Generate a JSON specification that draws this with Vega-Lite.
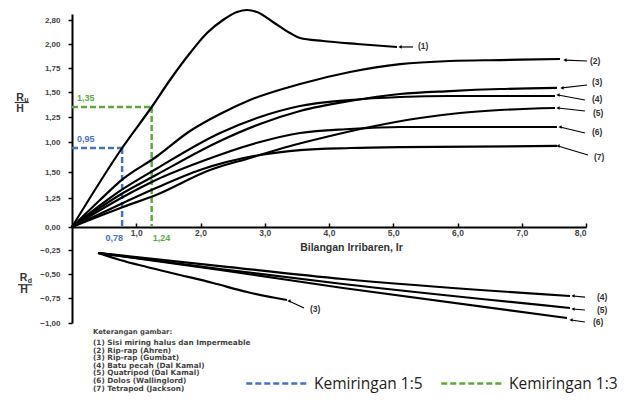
{
  "$schema": "https://vega.github.io/schema/vega-lite/v6.json",
  "width": 514,
  "height": 227,
  "autosize": {"type": "none"},
  "padding": {"left": 72, "top": 0, "right": 38, "bottom": 182},
  "config": {"view": {"stroke": null}, "font": "Liberation Sans"},
  "datasets": {
    "curves": [
      {"s": "1", "x": 0, "y": 0}, {"s": "1", "x": 0.78, "y": 0.95}, {"s": "1", "x": 1.24, "y": 1.35}, {"s": "1", "x": 1.525, "y": 1.625}, {"s": "1", "x": 1.837, "y": 1.906}, {"s": "1", "x": 2.101, "y": 2.367}, {"s": "1", "x": 2.35, "y": 2.8}, {"s": "1", "x": 2.568, "y": 3.067}, {"s": "1", "x": 2.724, "y": 3.133}, {"s": "1", "x": 2.879, "y": 3.067}, {"s": "1", "x": 3.128, "y": 2.733}, {"s": "1", "x": 3.393, "y": 2.367}, {"s": "1", "x": 3.549, "y": 2.2}, {"s": "1", "x": 3.907, "y": 2.1}, {"s": "1", "x": 4.436, "y": 2.0}, {"s": "1", "x": 5.058, "y": 1.969},
      {"s": "2", "x": 0, "y": 0}, {"s": "2", "x": 0.436, "y": 0.466}, {"s": "2", "x": 0.794, "y": 0.683}, {"s": "2", "x": 1.307, "y": 0.875}, {"s": "2", "x": 1.837, "y": 1.11}, {"s": "2", "x": 2.304, "y": 1.28}, {"s": "2", "x": 2.77, "y": 1.42}, {"s": "2", "x": 3.549, "y": 1.583}, {"s": "2", "x": 4.327, "y": 1.708}, {"s": "2", "x": 5.105, "y": 1.79}, {"s": "2", "x": 5.883, "y": 1.823}, {"s": "2", "x": 6.661, "y": 1.833}, {"s": "2", "x": 7.595, "y": 1.844},
      {"s": "3", "x": 0, "y": 0}, {"s": "3", "x": 0.794, "y": 0.548}, {"s": "3", "x": 1.307, "y": 0.721}, {"s": "3", "x": 2.304, "y": 1.01}, {"s": "3", "x": 2.926, "y": 1.18}, {"s": "3", "x": 3.549, "y": 1.31}, {"s": "3", "x": 4.327, "y": 1.41}, {"s": "3", "x": 5.105, "y": 1.48}, {"s": "3", "x": 5.883, "y": 1.51}, {"s": "3", "x": 6.661, "y": 1.531}, {"s": "3", "x": 7.549, "y": 1.542},
      {"s": "4", "x": 0, "y": 0}, {"s": "4", "x": 0.794, "y": 0.587}, {"s": "4", "x": 1.307, "y": 0.775}, {"s": "4", "x": 2.304, "y": 1.09}, {"s": "4", "x": 2.926, "y": 1.25}, {"s": "4", "x": 3.549, "y": 1.36}, {"s": "4", "x": 4.327, "y": 1.42}, {"s": "4", "x": 5.105, "y": 1.45}, {"s": "4", "x": 5.883, "y": 1.46}, {"s": "4", "x": 7.518, "y": 1.46},
      {"s": "5", "x": 0, "y": 0}, {"s": "5", "x": 0.794, "y": 0.345}, {"s": "5", "x": 1.307, "y": 0.529}, {"s": "5", "x": 2.148, "y": 0.767}, {"s": "5", "x": 2.77, "y": 0.867}, {"s": "5", "x": 3.284, "y": 0.95}, {"s": "5", "x": 4.016, "y": 1.06}, {"s": "5", "x": 4.638, "y": 1.15}, {"s": "5", "x": 5.416, "y": 1.24}, {"s": "5", "x": 6.039, "y": 1.29}, {"s": "5", "x": 6.661, "y": 1.32}, {"s": "5", "x": 7.518, "y": 1.34},
      {"s": "6", "x": 0, "y": 0}, {"s": "6", "x": 0.794, "y": 0.51}, {"s": "6", "x": 1.307, "y": 0.673}, {"s": "6", "x": 1.992, "y": 0.833}, {"s": "6", "x": 2.926, "y": 1.0}, {"s": "6", "x": 3.549, "y": 1.09}, {"s": "6", "x": 4.327, "y": 1.13}, {"s": "6", "x": 5.105, "y": 1.15}, {"s": "6", "x": 7.549, "y": 1.15},
      {"s": "7", "x": 0, "y": 0}, {"s": "7", "x": 0.794, "y": 0.414}, {"s": "7", "x": 1.307, "y": 0.596}, {"s": "7", "x": 1.992, "y": 0.767}, {"s": "7", "x": 2.926, "y": 0.892}, {"s": "7", "x": 3.549, "y": 0.933}, {"s": "7", "x": 4.327, "y": 0.95}, {"s": "7", "x": 5.105, "y": 0.958}, {"s": "7", "x": 7.549, "y": 0.967},
      {"s": "3d", "x": 0.405, "y": -0.281}, {"s": "3d", "x": 0.747, "y": -0.354}, {"s": "3d", "x": 1.167, "y": -0.427}, {"s": "3d", "x": 1.681, "y": -0.51}, {"s": "3d", "x": 2.195, "y": -0.594}, {"s": "3d", "x": 2.724, "y": -0.688}, {"s": "3d", "x": 3.346, "y": -0.77},
      {"s": "4d", "x": 0.405, "y": -0.281}, {"s": "4d", "x": 2.304, "y": -0.417}, {"s": "4d", "x": 4.218, "y": -0.552}, {"s": "4d", "x": 7.751, "y": -0.729},
      {"s": "5d", "x": 0.405, "y": -0.281}, {"s": "5d", "x": 2.304, "y": -0.448}, {"s": "5d", "x": 4.218, "y": -0.604}, {"s": "5d", "x": 7.751, "y": -0.85},
      {"s": "6d", "x": 0.405, "y": -0.281}, {"s": "6d", "x": 2.304, "y": -0.458}, {"s": "6d", "x": 4.218, "y": -0.646}, {"s": "6d", "x": 7.704, "y": -0.95}
    ],
    "guides": [
      {"slope": "Kemiringan 1:5", "x": 0, "y": 0.95, "x2": 0.78, "y2": 0.95},
      {"slope": "Kemiringan 1:5", "x": 0.78, "y": 0.95, "x2": 0.78, "y2": 0},
      {"slope": "Kemiringan 1:3", "x": 0, "y": 1.35, "x2": 1.24, "y2": 1.35},
      {"slope": "Kemiringan 1:3", "x": 1.24, "y": 1.35, "x2": 1.24, "y2": 0}
    ],
    "guideLabels": [
      {"slope": "Kemiringan 1:5", "kind": "y", "label": "0,95", "x": 0, "y": 0.95},
      {"slope": "Kemiringan 1:3", "kind": "y", "label": "1,35", "x": 0, "y": 1.35},
      {"slope": "Kemiringan 1:5", "kind": "xl", "label": "0,78", "x": 0.78, "y": 0},
      {"slope": "Kemiringan 1:3", "kind": "xr", "label": "1,24", "x": 1.24, "y": 0}
    ],
    "arrows": [
      {"x": 5.105, "y": 1.969, "x2": 5.307, "y2": 1.969},
      {"x": 7.673, "y": 1.833, "x2": 8.016, "y2": 1.823},
      {"x": 7.626, "y": 1.542, "x2": 8.016, "y2": 1.573},
      {"x": 7.564, "y": 1.47, "x2": 7.984, "y2": 1.42},
      {"x": 7.564, "y": 1.34, "x2": 7.984, "y2": 1.31},
      {"x": 7.595, "y": 1.15, "x2": 7.984, "y2": 1.09},
      {"x": 7.564, "y": 0.967, "x2": 8.031, "y2": 0.892},
      {"x": 3.377, "y": -0.78, "x2": 3.611, "y2": -0.85},
      {"x": 7.798, "y": -0.729, "x2": 7.984, "y2": -0.74},
      {"x": 7.798, "y": -0.86, "x2": 7.984, "y2": -0.87},
      {"x": 7.767, "y": -0.97, "x2": 7.984, "y2": -0.99}
    ],
    "curveLabels": [
      {"label": "(1)", "x": 5.385, "y": 1.979},
      {"label": "(2)", "x": 8.062, "y": 1.823},
      {"label": "(3)", "x": 8.093, "y": 1.604},
      {"label": "(4)", "x": 8.093, "y": 1.43},
      {"label": "(5)", "x": 8.109, "y": 1.29},
      {"label": "(6)", "x": 8.093, "y": 1.1},
      {"label": "(7)", "x": 8.125, "y": 0.875},
      {"label": "(3)", "x": 3.704, "y": -0.86},
      {"label": "(4)", "x": 8.171, "y": -0.74},
      {"label": "(5)", "x": 8.171, "y": -0.87},
      {"label": "(6)", "x": 8.109, "y": -0.99}
    ],
    "ratioText": [
      {"t": "R", "size": "big", "x": -0.809, "y": 1.445},
      {"t": "u", "size": "small", "x": -0.71, "y": 1.42},
      {"t": "H", "size": "big", "x": -0.809, "y": 1.335},
      {"t": "R", "size": "big", "x": -0.755, "y": -0.545},
      {"t": "d", "size": "small", "x": -0.655, "y": -0.575},
      {"t": "H", "size": "big", "x": -0.747, "y": -0.665}
    ],
    "ratioBars": [
      {"x": -0.89, "x2": -0.67, "y": 1.395},
      {"x": -0.84, "x2": -0.62, "y": -0.612}
    ],
    "notes": [
      {"kind": "head", "t": "Keterangan gambar:", "x": 0.327, "y": -1.09},
      {"kind": "list", "t": ["(1) Sisi miring halus dan Impermeable", "(2) Rip-rap (Ahren)", "(3) Rip-rap (Gumbat)", "(4) Batu pecah (Dal Kamal)", "(5) Quatripod (Dal Kamal)", "(6) Dolos (Wallinglord)", "(7) Tetrapod (Jackson)"], "x": 0.327, "y": -1.16}
    ]
  },
  "encoding": {
    "x": {
      "field": "x", "type": "quantitative",
      "scale": {"domain": [0, 8], "nice": false, "zero": false},
      "axis": {
        "title": "Bilangan Irribaren, Ir",
        "titleX": 279, "titleY": 20, "titleBaseline": "middle",
        "titleFont": "Liberation Sans", "titleFontSize": 10.5, "titleFontWeight": "bold", "titleColor": "#333",
        "values": [1, 2, 3, 4, 5, 6, 7, 8],
        "labelExpr": "replace(format(datum.value, '.1f'), '.', ',')",
        "labelFontSize": 8.5, "labelFontWeight": "bold", "labelColor": "#444", "labelPadding": 5,
        "tickSize": -4, "tickColor": "black", "tickWidth": 1.5,
        "domainColor": "black", "domainWidth": 2, "grid": false
      }
    },
    "y": {
      "field": "y", "type": "quantitative",
      "scale": {
        "domain": [-1, -0.75, -0.5, -0.25, 0, 0.5, 0.75, 1, 1.25, 1.5, 1.75, 2, 2.8, 3.0],
        "range": [323, 298, 274, 250, 227, 198, 172, 142, 117, 92, 68, 44, 20, 14],
        "nice": false, "zero": false
      },
      "axis": {
        "title": null,
        "values": [-1, -0.75, -0.5, -0.25, 0, 0.5, 0.75, 1, 1.25, 1.5, 1.75, 2, 2.8],
        "labelExpr": "datum.value == 0.75 ? '1,50' : datum.value == 0.5 ? '1,25' : replace(format(datum.value, '.2f'), '.', ',')",
        "labelFontSize": 8, "labelFontWeight": "bold", "labelColor": "#444", "labelPadding": 8,
        "tickSize": 4, "tickColor": "black", "tickWidth": 1.5,
        "domainColor": "black", "domainWidth": 2, "grid": false
      }
    }
  },
  "layer": [
    {
      "data": {"name": "guides"},
      "mark": {"type": "rule", "strokeWidth": 2.5, "strokeDash": [6, 3]},
      "encoding": {
        "x2": {"field": "x2"},
        "y2": {"field": "y2"},
        "color": {
          "field": "slope", "type": "nominal",
          "scale": {"domain": ["Kemiringan 1:5", "Kemiringan 1:3"], "range": ["#4472C4", "#5BAA3F"]},
          "legend": {
            "title": null, "orient": "none", "direction": "horizontal",
            "legendX": 173, "legendY": 351,
            "symbolType": "stroke", "symbolSize": 3900, "symbolStrokeWidth": 2.5, "symbolDash": [6, 3],
            "labelFont": "Open Sans", "labelFontSize": 15.5, "labelColor": "#222", "labelOffset": 4,
            "columnPadding": 13, "labelLimit": 300
          }
        }
      }
    },
    {
      "data": {"name": "curves"},
      "mark": {"type": "line", "color": "black", "strokeWidth": 2.2, "interpolate": "monotone"},
      "encoding": {"detail": {"field": "s"}}
    },
    {
      "data": {"name": "arrows"},
      "mark": {"type": "rule", "color": "black", "strokeWidth": 1.2},
      "encoding": {"x2": {"field": "x2"}, "y2": {"field": "y2"}}
    },
    {
      "data": {"name": "arrows"},
      "mark": {"type": "point", "shape": "triangle-left", "filled": true, "color": "black", "size": 14, "opacity": 1}
    },
    {
      "data": {"name": "curveLabels"},
      "mark": {"type": "text", "align": "left", "baseline": "middle", "fontSize": 8.5, "fontWeight": "bold", "color": "#333"},
      "encoding": {"text": {"field": "label"}}
    },
    {
      "data": {"name": "guideLabels"},
      "transform": [{"filter": "datum.kind == 'y'"}],
      "mark": {"type": "text", "align": "left", "baseline": "middle", "dx": 5, "dy": -9, "fontSize": 9, "fontWeight": "bold"},
      "encoding": {"text": {"field": "label"}, "color": {"field": "slope", "type": "nominal", "legend": null}}
    },
    {
      "data": {"name": "guideLabels"},
      "transform": [{"filter": "datum.kind == 'xl'"}],
      "mark": {"type": "text", "align": "right", "baseline": "middle", "dx": 1, "dy": 11, "fontSize": 9, "fontWeight": "bold"},
      "encoding": {"text": {"field": "label"}, "color": {"field": "slope", "type": "nominal", "legend": null}}
    },
    {
      "data": {"name": "guideLabels"},
      "transform": [{"filter": "datum.kind == 'xr'"}],
      "mark": {"type": "text", "align": "left", "baseline": "middle", "dx": 1, "dy": 11, "fontSize": 9, "fontWeight": "bold"},
      "encoding": {"text": {"field": "label"}, "color": {"field": "slope", "type": "nominal", "legend": null}}
    },
    {
      "data": {"name": "ratioText"},
      "transform": [{"filter": "datum.size == 'big'"}],
      "mark": {"type": "text", "align": "center", "baseline": "middle", "fontSize": 10.5, "fontWeight": "bold", "color": "#333"},
      "encoding": {"text": {"field": "t"}}
    },
    {
      "data": {"name": "ratioText"},
      "transform": [{"filter": "datum.size == 'small'"}],
      "mark": {"type": "text", "align": "center", "baseline": "middle", "fontSize": 7, "fontWeight": "bold", "color": "#333"},
      "encoding": {"text": {"field": "t"}}
    },
    {
      "data": {"name": "ratioBars"},
      "mark": {"type": "rule", "color": "#333", "strokeWidth": 1.2},
      "encoding": {"x2": {"field": "x2"}}
    },
    {
      "data": {"name": "notes"},
      "transform": [{"filter": "datum.kind == 'head'"}],
      "mark": {"type": "text", "align": "left", "baseline": "middle", "font": "DejaVu Sans", "fontSize": 6.8, "fontWeight": "bold", "color": "#444"},
      "encoding": {"text": {"field": "t"}}
    },
    {
      "data": {"name": "notes"},
      "transform": [{"filter": "datum.kind == 'list'"}],
      "mark": {"type": "text", "align": "left", "baseline": "top", "font": "DejaVu Sans", "fontSize": 7.3, "fontWeight": "bold", "color": "#444", "lineHeight": 7.6},
      "encoding": {"text": {"field": "t"}}
    }
  ]
}
